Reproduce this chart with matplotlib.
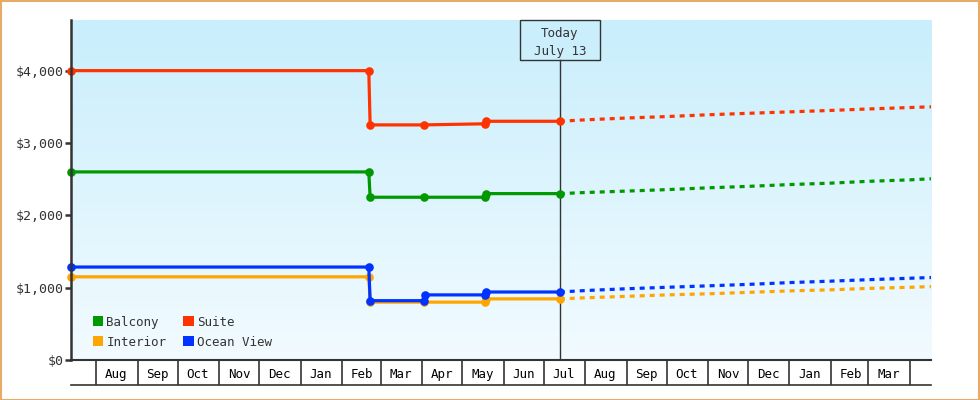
import datetime as dt
import numpy as np
import matplotlib
matplotlib.use("Agg")
import matplotlib.pyplot as plt
import matplotlib.dates as mdates
from matplotlib.patches import Patch, Rectangle
from matplotlib.colors import LinearSegmentedColormap
from matplotlib.ticker import FuncFormatter

plt.rcParams['font.family'] = ['DejaVu Sans Mono', 'DejaVu Sans']
plt.rcParams['lines.scale_dashes'] = False

def D(s):
    return dt.datetime.strptime(s, "%Y-%m-%d")

# ---------------- data ----------------
series_names = ["Balcony", "Interior", "Suite", "Ocean View"]
series_colors = {"Balcony": "#009900", "Interior": "#ffa500", "Suite": "#ff3300", "Ocean View": "#0033ff"}

suite_dates = ["2023-07-13", "2024-02-21", "2024-02-22", "2024-04-02", "2024-05-18", "2024-05-19", "2024-07-13"]
suite_vals = [4000, 4000, 3250, 3250, 3265, 3300, 3300]

balcony_dates = ["2023-07-13", "2024-02-21", "2024-02-22", "2024-04-02", "2024-05-18", "2024-05-19", "2024-07-13"]
balcony_vals = [2600, 2600, 2250, 2250, 2250, 2300, 2300]

ocean_dates = ["2023-07-13", "2024-02-21", "2024-02-22", "2024-04-02", "2024-04-03", "2024-05-18", "2024-05-19", "2024-07-13"]
ocean_vals = [1285, 1285, 820, 820, 900, 900, 940, 940]

interior_dates = ["2023-07-13", "2024-02-21", "2024-02-22", "2024-04-02", "2024-05-18", "2024-05-19", "2024-07-13"]
interior_vals = [1150, 1150, 800, 800, 800, 845, 845]

forecast_dates = ["2024-07-13", "2024-08-01", "2024-09-01", "2024-10-01", "2024-11-01", "2024-12-01",
                  "2025-01-01", "2025-02-01", "2025-03-01", "2025-04-01", "2025-04-17"]
suite_fc = [3300, 3320, 3345, 3365, 3390, 3410, 3430, 3450, 3470, 3490, 3500]
balcony_fc = [2300, 2315, 2335, 2355, 2380, 2400, 2425, 2445, 2470, 2490, 2505]
ocean_fc = [940, 960, 985, 1005, 1025, 1045, 1070, 1090, 1110, 1130, 1140]
interior_fc = [845, 860, 880, 900, 915, 935, 955, 970, 990, 1005, 1015]

y_ticks = [0, 1000, 2000, 3000, 4000]
x_start, x_end = "2023-07-13", "2025-04-17"
today = "2024-07-13"
today_label = "Today\nJuly 13"

hist = {
    "Suite": (suite_dates, suite_vals),
    "Balcony": (balcony_dates, balcony_vals),
    "Ocean View": (ocean_dates, ocean_vals),
    "Interior": (interior_dates, interior_vals),
}
fc = {"Suite": suite_fc, "Balcony": balcony_fc, "Ocean View": ocean_fc, "Interior": interior_fc}
draw_order = ["Interior", "Ocean View", "Balcony", "Suite"]

# ---------------- figure ----------------
W, H = 980, 400
fig = plt.figure(figsize=(W / 100, H / 100), dpi=100)
fig.patch.set_facecolor("white")
fig.patches.append(Rectangle((0.5 / W, 0.5 / H), 1 - 1.5 / W, 1 - 1.5 / H, transform=fig.transFigure,
                             fill=False, ec="#e8aa68", lw=1.5))

L, R, T, B = 71, 931, 20, 360
ax = fig.add_axes([L / W, 1 - B / H, (R - L) / W, (B - T) / H])
ax.set_xlim(D(x_start), D(x_end))
ax.set_ylim(0, 4700)

cmap = LinearSegmentedColormap.from_list("bg", ["#f2fbff", "#c9eefc"])
grad = np.linspace(0, 1, 256).reshape(-1, 1)
ax.imshow(grad, extent=[0, 1, 0, 1], transform=ax.transAxes, aspect="auto", cmap=cmap,
          origin="lower", zorder=0)

for name in draw_order:
    d, v = hist[name]
    c = series_colors[name]
    ax.plot([D(s) for s in d], v, color=c, lw=2.3, marker="o", ms=6.2, mew=0, zorder=3, clip_on=False)
    ax.plot([D(s) for s in forecast_dates], fc[name], color=c, lw=2.3, dashes=(3.6, 3.6), zorder=3,
            dash_capstyle="butt")

for s in ["top", "right"]:
    ax.spines[s].set_visible(False)
ax.spines["left"].set_color("#333333")
ax.spines["left"].set_linewidth(1.8)
ax.spines["bottom"].set_color("#333333")
ax.spines["bottom"].set_linewidth(1.5)
ax.spines["left"].set_zorder(5)

ax.set_yticks(y_ticks)
ax.set_yticklabels([f"${v:,}" for v in y_ticks])
ax.tick_params(axis="y", length=4, width=1.8, color="#333333", labelsize=9.5, labelcolor="#333333", pad=1)

# months: separators as minor ticks, labels at mid month (only full months)
xs, xe = mdates.date2num(D(x_start)), mdates.date2num(D(x_end))

def month_fmt(x, pos):
    d = mdates.num2date(x)
    start = mdates.date2num(dt.datetime(d.year, d.month, 1))
    nm = dt.datetime(d.year + (d.month == 12), d.month % 12 + 1, 1)
    end = mdates.date2num(nm)
    if start < xs or end > xe:
        return ""
    return d.strftime("%b")

ax.xaxis.set_minor_locator(mdates.MonthLocator())
ax.xaxis.set_major_locator(mdates.MonthLocator(bymonthday=16))
ax.xaxis.set_major_formatter(FuncFormatter(month_fmt))
ax.tick_params(axis="x", which="minor", length=18, width=1.2, color="#333333", direction="out")
ax.tick_params(axis="x", which="major", length=0, labelsize=9, labelcolor="black", pad=6)

row_h = 25 / (B - T)
ax.plot([0, 1], [-row_h, -row_h], transform=ax.transAxes, color="#333333", lw=1.2, clip_on=False)

# today marker
tx = mdates.date2num(D(today))
tfrac = (tx - xs) / (xe - xs)
box_w = 80 / (R - L)
box_h = 40 / (B - T)
ax.plot([tfrac, tfrac], [0, 1 - box_h], transform=ax.transAxes, color="#333333", lw=1, zorder=2)
ax.add_patch(Rectangle((tfrac - box_w / 2, 1 - box_h), box_w, box_h, transform=ax.transAxes,
                       fill=False, ec="#333333", lw=1, zorder=6, clip_on=False))
ax.text(tfrac, 1 - box_h / 2 - 0.006, today_label, transform=ax.transAxes, ha="center", va="center",
        fontsize=9, color="#333333", linespacing=1.5, zorder=7)

handles = [Patch(facecolor=series_colors[n], edgecolor="none", label=n) for n in series_names]
ax.legend(handles=handles, ncol=2, loc="lower left", bbox_to_anchor=(0.015, 0.008), frameon=False,
          fontsize=9, handlelength=0.85, handleheight=0.85, handletextpad=0.25, columnspacing=1.36,
          labelspacing=0.55, borderpad=0.2, labelcolor="#333333")

fig.savefig("out.png", dpi=100)
